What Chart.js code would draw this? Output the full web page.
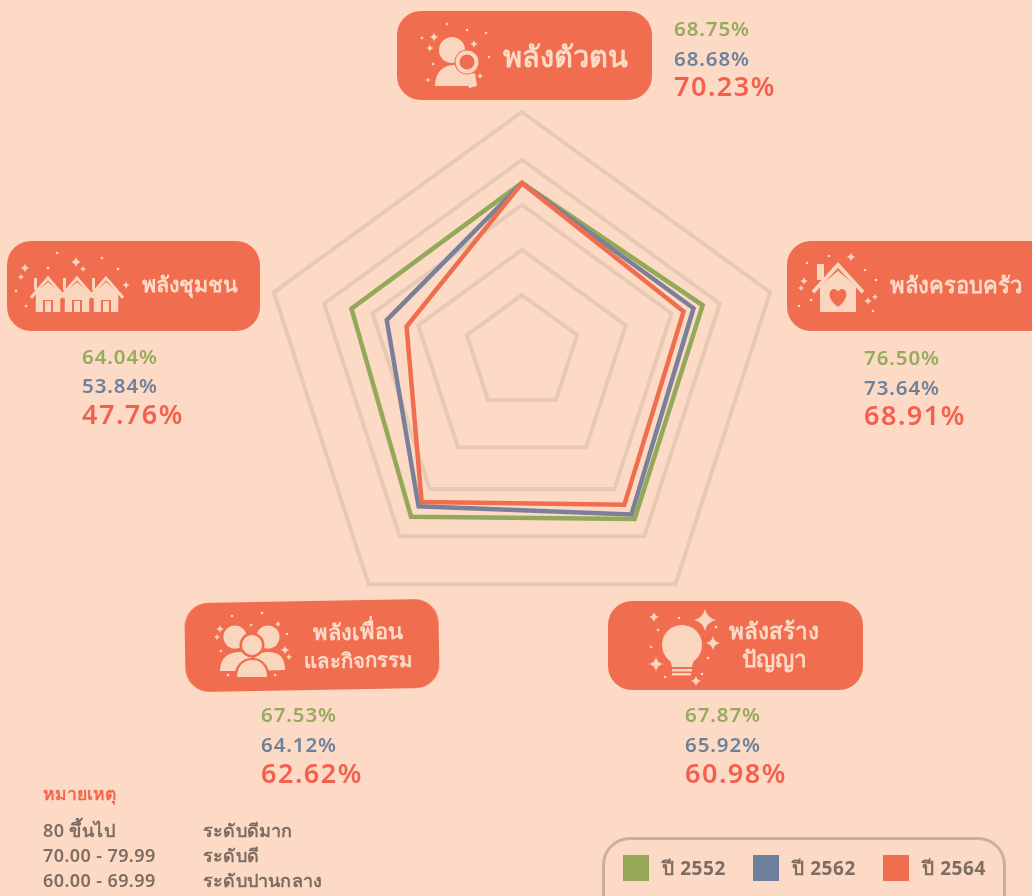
<!DOCTYPE html>
<html lang="th">
<head>
<meta charset="utf-8">
<script src="https://cdn.jsdelivr.net/npm/chart.js@4"></script>
<style>
html,body{margin:0;padding:0;background:#fddac5;overflow:hidden}
#stage{position:relative;width:1032px;height:896px;overflow:hidden;background:#fddac5;font-family:"Noto Sans",sans-serif}
canvas{position:absolute;left:0;top:0}
.box{position:absolute;background:#f06d4f;color:#fddac5;font-weight:600;border-radius:24px}
.t{position:absolute;white-space:nowrap;line-height:1;transform:translateY(-50%)}
.c{position:absolute;text-align:center;transform:translate(-50%,-50%);white-space:nowrap;line-height:28px;color:#fddac5;font-weight:600}
svg{position:absolute;left:0;top:0}
</style>
</head>
<body>
<div id="stage">
<canvas id="c" width="1032" height="896"></canvas>
<div class="box" style="left:397px;top:11px;width:255px;height:89px"></div>
<div class="box" style="left:787px;top:241px;width:270px;height:90px"></div>
<div class="box" style="left:7px;top:241px;width:253px;height:90px"></div>
<div class="box" style="left:185px;top:600.5px;width:254px;height:89px;transform:rotate(-1deg)"></div>
<div class="box" style="left:608px;top:601px;width:255px;height:89px"></div>
<svg id="icons" width="1032" height="896"></svg>
<div id="txt"></div>
<div style="position:absolute;left:602px;top:837px;width:398px;height:80px;border:3px solid #cdb09c;border-radius:28px"></div>
</div>
<script>
// Axis labels, clockwise from the top
const categories = ['พลังตัวตน', 'พลังครอบครัว', 'พลังสร้างปัญญา', 'พลังเพื่อนและกิจกรรม', 'พลังชุมชน'];
const seriesNames = ['ปี 2552', 'ปี 2562', 'ปี 2564'];
// Printed percentages
const printed2552 = ['68.75%', '76.50%', '67.87%', '67.53%', '64.04%'];
const printed2562 = ['68.68%', '73.64%', '65.92%', '64.12%', '53.84%'];
const printed2564 = ['70.23%', '68.91%', '60.98%', '62.62%', '47.76%'];
const drawn2552 = [69.4, 72.8, 73.4, 72.3, 68.7];
const drawn2562 = [69.3, 69.1, 71.3, 67.4, 54.5];
const drawn2564 = [69.3, 65.1, 66.7, 65.4, 46.5];
// Rings; they are not concentric in the original
const ringValues = [22.2, 41.8, 60.2, 79.7, 100];
const ringDrift = [-11, -5, -2, 4, 9];
const notesLeft = ['80 ขึ้นไป', '70.00 - 79.99', '60.00 - 69.99'];
const notesRight = ['ระดับดีมาก', 'ระดับดี', 'ระดับปานกลาง'];

const rings = {
  id: 'rings',
  beforeDatasetsDraw(chart) {
    const r = chart.scales.r, ctx = chart.ctx;
    ctx.save();
    ctx.strokeStyle = '#e7c9b4';
    ctx.lineWidth = 4;
    ctx.lineJoin = 'miter';
    ringValues.forEach((v, k) => {
      const d = r.getDistanceFromCenterForValue(v);
      ctx.beginPath();
      categories.forEach((_, i) => {
        const p = r.getPointPosition(i, d);
        ctx.lineTo(p.x, p.y + ringDrift[k]);
      });
      ctx.closePath();
      ctx.stroke();
    });
    ctx.restore();
  }
};

new Chart(document.getElementById('c'), {
  type: 'radar',
  plugins: [rings],
  data: {
    labels: categories,
    datasets: [
      {label: seriesNames[0], data: drawn2552, borderColor: '#93a859', borderWidth: 4.5, fill: false, pointRadius: 0, tension: 0, borderJoinStyle: 'miter', order: 3},
      {label: seriesNames[1], data: drawn2562, borderColor: '#7a8099', borderWidth: 4.5, fill: false, pointRadius: 0, tension: 0, borderJoinStyle: 'miter', order: 2},
      {label: seriesNames[2], data: drawn2564, borderColor: '#ef6e4e', borderWidth: 4.5, fill: false, pointRadius: 0, tension: 0, borderJoinStyle: 'miter', order: 1}
    ]
  },
  options: {
    responsive: false,
    animation: false,
    devicePixelRatio: 1,
    layout: {padding: {left: 261, right: 249, top: 103, bottom: 271}},
    plugins: {legend: {display: false}, tooltip: {enabled: false}},
    scales: {
      r: {
        min: 0, max: 100,
        ticks: {display: false},
        pointLabels: {display: false},
        angleLines: {display: false},
        grid: {display: false}
      }
    }
  }
});

// Text blocks
const txt = document.getElementById('txt');
function t(x, y, s, size, color, weight, ls) {
  const d = document.createElement('div');
  d.className = 't'; d.textContent = s;
  d.style.cssText = `left:${x}px;top:${y}px;font-size:${size}px;color:${color};font-weight:${weight || 600};letter-spacing:${ls || 0}px`;
  txt.appendChild(d);
}
function c(x, y, s, size, rot) {
  const d = document.createElement('div');
  d.className = 'c'; d.innerHTML = s;
  d.style.cssText = `left:${x}px;top:${y}px;font-size:${size}px;` + (rot ? `transform:translate(-50%,-50%) rotate(${rot}deg)` : '');
  txt.appendChild(d);
}
const valuePos = [[674, 28, 58, 85], [864, 357, 387, 414], [685, 714, 744, 772], [261, 714, 744, 772], [82, 356, 385, 413]];
valuePos.forEach((p, i) => {
  t(p[0], p[1], printed2552[i], 20.5, '#96ab5d', 600, 0.9);
  t(p[0], p[2], printed2562[i], 20.5, '#6f829c', 600, 0.9);
  t(p[0], p[3], printed2564[i], 27, '#f4604f', 600, 1.5);
});
c(565, 56, categories[0], 29);
c(955.5, 284, categories[1], 22);
c(774, 645, 'พลังสร้าง<br>ปัญญา', 22.5);
c(358, 645, 'พลังเพื่อน<br><span style="font-size:20.5px">และกิจกรรม</span>', 22, -1);
c(190, 284, categories[4], 21.5);

t(43, 794, 'หมายเหตุ', 17.5, '#f2674f');
[830, 855, 880].forEach((y, i) => {
  t(43, y, notesLeft[i], 18, '#7d6d63', 600, 0.4);
  t(203, y, notesRight[i], 18, '#7d6d63', 600, 0.2);
});

// Legend
const legendColors = ['#96a858', '#6d7f9a', '#f06d4f'];
seriesNames.forEach((s, i) => {
  const q = document.createElement('div');
  q.style.cssText = `position:absolute;left:${623 + i * 130}px;top:855px;width:26px;height:26px;background:${legendColors[i]}`;
  txt.appendChild(q);
  t(662 + i * 130, 868, s, 19, '#7d6d63', 700, 0.6);
});

// Decorative icons
const P = '#fbd6bf', R = '#f06d4f';
const star = (x, y, r) => `<path fill="${P}" d="M${x} ${y - r}Q${x + r * .18} ${y - r * .18} ${x + r} ${y}Q${x + r * .18} ${y + r * .18} ${x} ${y + r}Q${x - r * .18} ${y + r * .18} ${x - r} ${y}Q${x - r * .18} ${y - r * .18} ${x} ${y - r}Z"/>`;
const dot = (x, y) => `<circle cx="${x}" cy="${y}" r="1.3" fill="${P}"/>`;
function house(x, y, w, h, sw) {
  return `<path fill="${P}" d="M${x - w * .36} ${y + h * .45}V${y + h}H${x + w * .36}V${y + h * .45}L${x} ${y + h * .12}Z"/>` +
    `<path fill="none" stroke="${P}" stroke-width="${sw}" d="M${x - w / 2} ${y + h * .58}L${x} ${y}L${x + w / 2} ${y + h * .58}"/>`;
}
let s = '';
// top: person with magnifier
s += `<circle cx="452" cy="50" r="13" fill="${P}"/><path fill="${P}" d="M435 86C435 72 443 65 455 65C467 65 475 72 475 86Z"/>`;
s += `<path fill="${P}" d="M466 75L475 73L477 86L469 88Z"/>`;
s += `<circle cx="467" cy="62" r="12.5" fill="${R}"/><circle cx="467" cy="62" r="9.5" fill="${R}" stroke="${P}" stroke-width="4"/>`;
s += star(434, 37, 4.5) + star(430, 48, 3.5) + star(474, 44, 4) + star(428, 80, 2.5) + star(480, 76, 3);
s += dot(447, 24) + dot(467, 30) + dot(486, 33) + dot(422, 38) + dot(489, 57) + dot(433, 64);
// right: house with heart
s += `<rect x="817" y="264" width="7" height="16" fill="${P}"/>` + house(838, 265, 50, 47, 4);
s += `<path fill="${R}" d="M838 307C826 298 829 289 834 289C836 289 838 291 838 292C838 291 840 289 842 289C847 289 850 298 838 307Z"/>`;
s += star(851, 257, 4.5) + star(804, 281, 4) + star(801, 288, 3) + star(868, 301, 4) + star(875, 297, 3);
s += dot(829, 256) + dot(807, 263) + dot(865, 270) + dot(876, 280) + dot(811, 300) + dot(799, 306) + dot(873, 311);
// left: three houses
[48, 77, 106].forEach(x => {
  s += `<rect x="${x - 14}" y="278" width="3" height="12" fill="${P}"/>` + house(x, 278, 34, 34, 3);
  s += `<rect x="${x - 5}" y="300" width="10" height="12" fill="${R}"/><rect x="${x - 3}" y="301" width="6" height="11" fill="${P}"/>`;
});
s += star(25, 268, 4.5) + star(21, 277, 3) + star(76, 262, 5) + star(83, 269, 3) + star(126, 285, 3.5);
s += dot(57, 253) + dot(48, 268) + dot(102, 258) + dot(118, 269) + dot(16, 291) + dot(26, 306);
// bottom-left: people
s += `<circle cx="235" cy="637" r="11.5" fill="${P}"/><circle cx="268" cy="637" r="11.5" fill="${P}"/>`;
s += `<path fill="${P}" d="M220 671C220 658 228 652 240 652C250 652 255 658 256 671Z"/><path fill="${P}" d="M250 671C251 658 258 652 268 652C280 652 285 658 285 670Z"/>`;
s += `<circle cx="252" cy="645" r="12.5" fill="${R}"/><circle cx="252" cy="645" r="10" fill="${P}"/>`;
s += `<path fill="${R}" d="M234 680C234 665 242 658 252 658C262 658 270 665 270 680Z"/><path fill="${P}" d="M237 677C237 667 243 660 252 660C261 660 267 667 267 677Z"/>`;
s += star(220, 629, 4) + star(217, 637, 3) + star(278, 624, 3) + star(285, 650, 4.5) + star(289, 657, 3);
s += dot(232, 616) + dot(262, 613) + dot(251, 625) + dot(287, 634) + dot(221, 651) + dot(228, 675) + dot(275, 675);
// bottom-right: bulb
s += `<circle cx="682" cy="645" r="20" fill="${P}"/><path fill="${P}" d="M669 655H695L692 667H672Z"/>`;
s += `<rect x="672" y="669" width="20" height="2.5" fill="${P}"/><rect x="672" y="673" width="19" height="2.5" fill="${P}"/>`;
s += star(705, 620, 11) + star(713, 643, 7) + star(656, 664, 7) + star(654, 617, 5) + star(696, 681, 5);
s += dot(679, 618) + dot(658, 630) + dot(651, 647) + dot(716, 627) + dot(708, 658) + dot(665, 677) + dot(702, 674);
document.getElementById('icons').innerHTML = s;
</script>
</body>
</html>
